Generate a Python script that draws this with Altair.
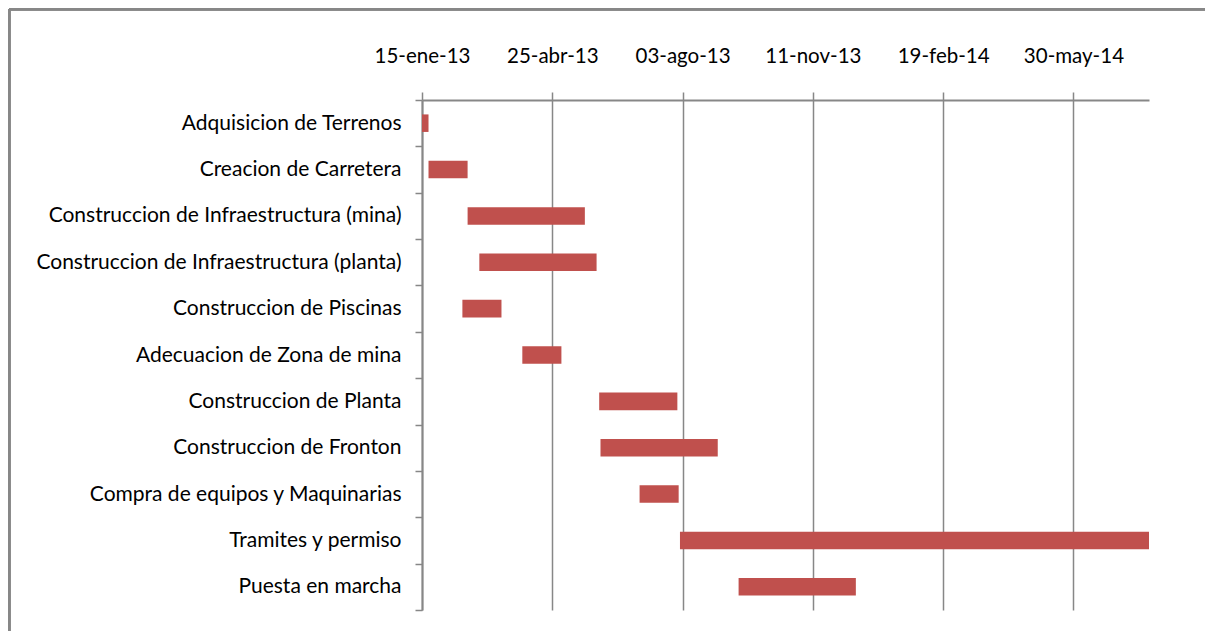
import altair as alt
import pandas as pd
from datetime import datetime, timezone

tasks = [
    "Adquisicion de Terrenos",
    "Creacion de Carretera",
    "Construccion de Infraestructura (mina)",
    "Construccion de Infraestructura (planta)",
    "Construccion de Piscinas",
    "Adecuacion de Zona de mina",
    "Construccion de Planta",
    "Construccion de Fronton",
    "Compra de equipos y  Maquinarias",
    "Tramites y permiso",
    "Puesta en marcha",
]
start_dates = [
    "2013-01-15", "2013-01-20", "2013-02-19", "2013-02-28", "2013-02-15",
    "2013-04-02", "2013-05-31", "2013-06-01", "2013-07-01", "2013-08-01",
    "2013-09-15",
]
end_dates = [
    "2013-01-20", "2013-02-19", "2013-05-20", "2013-05-29", "2013-03-17",
    "2013-05-02", "2013-07-30", "2013-08-30", "2013-07-31", "2014-07-27",
    "2013-12-14",
]
tick_dates = ["2013-01-15", "2013-04-25", "2013-08-03", "2013-11-11", "2014-02-19", "2014-05-30"]
tick_labels = ["15-ene-13", "25-abr-13", "03-ago-13", "11-nov-13", "19-feb-14", "30-may-14"]
axis_start = "2013-01-15"
axis_end = "2014-07-27"


def ms(d):
    return int(datetime.strptime(d, "%Y-%m-%d").replace(tzinfo=timezone.utc).timestamp() * 1000)


tick_ms = [ms(d) for d in tick_dates]
label_expr = "[" + ",".join("'%s'" % l for l in tick_labels) + "][indexof([" + \
    ",".join(str(t) for t in tick_ms) + "], time(datum.value))]"

df = pd.DataFrame({"task": tasks, "start": start_dates, "end": end_dates})

FONT = "Lato"
GRAY = "#878787"

bars = alt.Chart(df).mark_bar(color="#C0504D", height={"band": 0.378}).encode(
    x=alt.X(
        "start:T",
        scale=alt.Scale(type="utc", domain=[ms(axis_start), ms(axis_end)], nice=False),
        axis=alt.Axis(
            orient="top", title=None, values=tick_ms, labelExpr=label_expr,
            grid=True, gridColor=GRAY, gridWidth=1.5,
            domainColor=GRAY, domainWidth=2, tickColor=GRAY, tickWidth=1.5, tickSize=8,
            labelFont=FONT, labelFontSize=20.5, labelColor="#000000", labelPadding=26,
            labelFlush=False, labelOverlap=False,
        ),
    ),
    x2="end:T",
    y=alt.Y(
        "task:N", sort=tasks,
        scale=alt.Scale(paddingInner=0, paddingOuter=0),
        axis=alt.Axis(
            title=None, tickBand="extent", grid=False,
            domainColor=GRAY, domainWidth=2, tickColor=GRAY, tickWidth=1.5, tickSize=7,
            labelFont=FONT, labelFontSize=21, labelColor="#000000", labelPadding=14,
            labelLimit=600,
        ),
    ),
)

frame_top = alt.Chart(df).mark_rule(color=GRAY, strokeWidth=2.5).encode(
    x=alt.value(-413), x2=alt.value(800), y=alt.value(-91)
)
frame_left = alt.Chart(df).mark_rule(color=GRAY, strokeWidth=2.5).encode(
    x=alt.value(-413), y=alt.value(-91), y2=alt.value(600)
)

chart = alt.layer(frame_top, frame_left, bars).properties(
    width=727, height=510,
    autosize=alt.AutoSizeParams(type="none"),
    padding={"left": 414, "top": 92, "right": 56, "bottom": 21},
    view=alt.ViewBackground(stroke="transparent", strokeWidth=0),
).configure_view(strokeWidth=0, stroke="transparent").configure(background="white")

chart.save("out.html", embed_options={"renderer": "svg", "actions": False})
